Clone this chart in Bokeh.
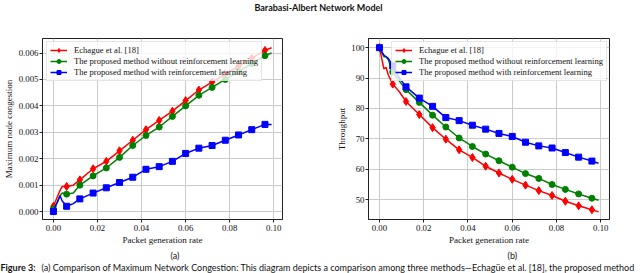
from bokeh.plotting import figure
from bokeh.layouts import column, row
from bokeh.models import Range1d, FixedTicker, NumeralTickFormatter, Label, Legend, LegendItem, Title
from bokeh.embed import file_html
from bokeh.resources import INLINE

# ---------------- data ----------------
title_text = "Barabasi-Albert Network Model"
caption_bold = "Figure 3:"
caption_text = ("(a) Comparison of Maximum Network Congestion: This diagram depicts a comparison among "
                "three methods\u2014Echag\u00fce et al. [18], the proposed method")
x_label = "Packet generation rate"
series_names = ["Echague et al. [18]",
                "The proposed method without reinforcement learning",
                "The proposed method with reinforcement learning"]

x_rate = [0.0, 0.002, 0.003, 0.004, 0.006, 0.009, 0.012, 0.018, 0.024, 0.030, 0.036,
          0.042, 0.048, 0.054, 0.060, 0.066, 0.072, 0.078, 0.084, 0.090, 0.096, 0.099]

cong_echague = [0.0002, 0.0006, 0.0008, 0.00095, 0.00095, 0.001, 0.0012, 0.00162, 0.0019, 0.0023, 0.0027,
                0.0031, 0.00345, 0.0038, 0.0042, 0.0046, 0.0049, 0.0052, 0.0055, 0.0058, 0.0061, 0.0062]
cong_without = [0.0001, 0.0004, 0.0006, 0.0007, 0.00066, 0.0007, 0.001, 0.00135, 0.00165, 0.00205, 0.0025,
                0.00288, 0.0032, 0.0036, 0.004, 0.0044, 0.0047, 0.005, 0.0053, 0.0056, 0.0059, 0.006]
cong_with = [0.0, 0.0004, 0.0006, 0.0004, 0.0002, 0.0003, 0.00048, 0.0007, 0.0009, 0.0011, 0.0013,
             0.0016, 0.0017, 0.0019, 0.0022, 0.0024, 0.0025, 0.0027, 0.0029, 0.0031, 0.0033, 0.0033]

thr_echague = [100, 93, 93.5, 91, 88, 85.5, 82.3, 78, 73.7, 69.9, 66.4,
               63.9, 61, 58.8, 56.7, 54.8, 53, 51.4, 49.5, 48, 46.7, 46]
thr_without = [100, 97, 97, 96, 92, 89, 86.2, 82, 77.8, 73.9, 70.3,
               67.5, 65, 62.8, 60.7, 58.6, 57, 55, 53.4, 51.9, 50.5, 49.8]
thr_with = [100, 97.5, 97, 96.5, 94, 90, 87.1, 83.4, 80.7, 77, 76,
            74.5, 73.2, 71.8, 70.8, 68.9, 67.7, 67, 65.5, 64, 62.7, 62]

x_ticks = [0.0, 0.02, 0.04, 0.06, 0.08, 0.10]
cong_ticks = [0.0, 0.001, 0.002, 0.003, 0.004, 0.005, 0.006]
thr_ticks = [50, 60, 70, 80, 90, 100]

# ---------------- style ----------------
colors = ["#ff0000", "#008000", "#0000ff"]
markers = ["diamond", "circle", "square"]
msizes = [8, 6, 6]
SERIF = "Liberation Serif"
SANS = "Lato"
PLOT_H = 241

mark_idx = [i for i, x in enumerate(x_rate) if round(x * 1000) % 6 == 0 and x < 0.0975]


def make_panel(width, bl, br, ys, yr, yticks, yfmt, ylabel, ylabel_standoff, leg_x, sub, sub_off):
    p = figure(width=width, height=PLOT_H, output_backend="svg", toolbar_location=None,
               x_range=Range1d(-0.00495, 0.10395), y_range=Range1d(*yr),
               min_border_left=bl, min_border_right=br, min_border_top=18, min_border_bottom=42)
    p.background_fill_color = "white"
    p.border_fill_color = "white"
    p.outline_line_color = "#222222"
    p.outline_line_width = 1
    p.xgrid.ticker = FixedTicker(ticks=x_ticks)
    p.ygrid.ticker = FixedTicker(ticks=yticks)
    p.grid.grid_line_color = "#cbcbcb"
    p.grid.grid_line_width = 1
    p.xaxis.ticker = FixedTicker(ticks=x_ticks)
    p.xaxis.formatter = NumeralTickFormatter(format="0.00")
    p.yaxis.ticker = FixedTicker(ticks=yticks)
    p.yaxis.formatter = NumeralTickFormatter(format=yfmt)
    for ax in p.axis:
        ax.axis_line_color = "#222222"
        ax.major_tick_in = 0
        ax.major_tick_out = 3
        ax.minor_tick_line_color = None
        ax.major_tick_line_color = "#222222"
        ax.major_label_text_font = SERIF
        ax.major_label_text_font_size = "8.8px"
        ax.major_label_text_color = "#111111"
        ax.axis_label_text_font = SERIF
        ax.axis_label_text_font_size = "9px"
        ax.axis_label_text_font_style = "normal"
        ax.axis_label_text_color = "#111111"
    p.xaxis.major_label_standoff = 2
    p.yaxis.major_label_standoff = 1
    p.xaxis.axis_label = x_label
    p.xaxis.axis_label_standoff = 1
    p.yaxis.axis_label = ylabel
    p.yaxis.axis_label_standoff = ylabel_standoff

    items = []
    for name, yv, c, m, s in zip(series_names, ys, colors, markers, msizes):
        lr = p.line(x_rate, yv, line_color=c, line_width=1.5)
        sr = p.scatter([x_rate[i] for i in mark_idx], [yv[i] for i in mark_idx],
                       marker=m, size=s, fill_color=c, line_color=c)
        items.append(LegendItem(label=name, renderers=[lr, sr]))
    leg = Legend(items=items, location=(leg_x, 138), margin=0, padding=3, spacing=1,
                 label_height=10, glyph_height=10, glyph_width=17, label_standoff=7,
                 label_text_font=SERIF, label_text_font_size="8.6px", label_text_color="#111111",
                 border_line_color="#cccccc", border_line_width=1,
                 background_fill_color="white", background_fill_alpha=0.8)
    p.add_layout(leg, "center")
    p.add_layout(Title(text=sub, align="left", offset=sub_off, standoff=0,
                       text_font=SANS, text_font_size="9px", text_font_style="normal",
                       text_color="#111111"), "below")
    return p


pa = make_panel(328, 39, 46, [cong_echague, cong_without, cong_with], (-0.0003, 0.00655),
                cong_ticks, "0.000", "Maximum node congestion", 2, 4, "(a)", 128)
pb = make_panel(312, 40, 31, [thr_echague, thr_without, thr_with], (43.5, 103.0),
                thr_ticks, "0", "Throughput", 1, 23, "(b)", 139)


def text_fig(h):
    f = figure(width=640, height=h, output_backend="svg", toolbar_location=None,
               x_range=Range1d(0, 640), y_range=Range1d(0, h),
               x_axis_type=None, y_axis_type=None, min_border=0)
    f.grid.visible = False
    f.outline_line_color = None
    f.background_fill_color = "white"
    f.border_fill_color = "white"
    return f


top = text_fig(20)
top.add_layout(Label(x=318, y=13, text=title_text, text_align="center", text_baseline="middle",
                     text_font=SANS, text_font_size="9px", text_font_style="bold",
                     text_color="#111111"))

cap = text_fig(12)
cap.add_layout(Label(x=0, y=6, text=caption_bold, text_align="left", text_baseline="middle",
                     text_font=SANS, text_font_size="9px", text_font_style="bold",
                     text_color="#111111"))
cap.add_layout(Label(x=41, y=6, text=caption_text, text_align="left", text_baseline="middle",
                     text_font=SANS, text_font_size="9px", text_color="#111111"))

layout = column(top, row(pa, pb), cap)

open("out.html", "w").write(file_html(layout, INLINE))
